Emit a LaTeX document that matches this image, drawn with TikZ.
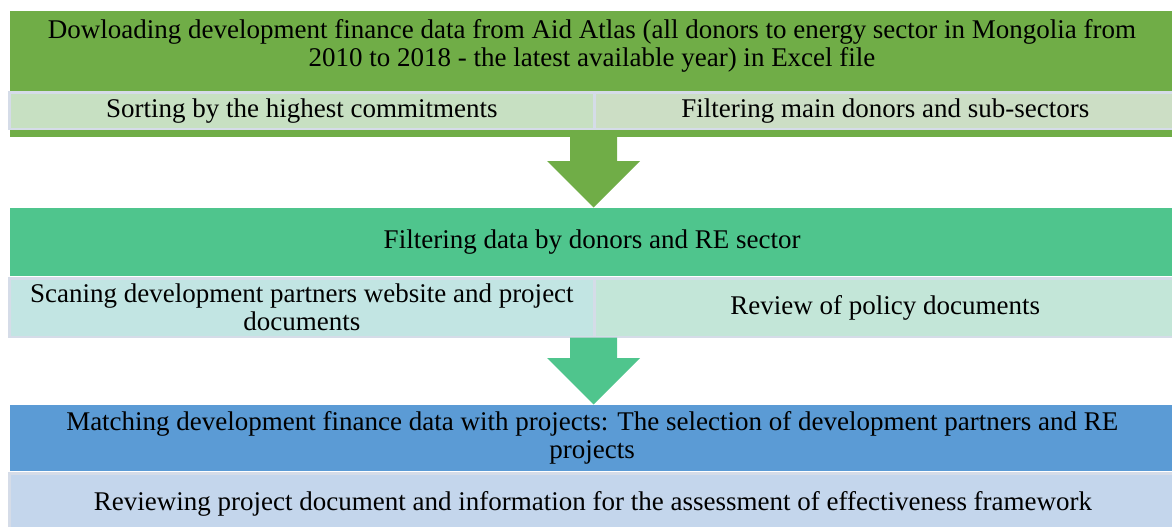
\documentclass[tikz,border=0pt]{standalone}
\usepackage{fontspec}
\setmainfont{Liberation Serif}
\usepackage{xcolor}
\usetikzlibrary{shapes,arrows}
\definecolor{grnA}{HTML}{70AD47}
\definecolor{subAl}{HTML}{C7E0C2}
\definecolor{subAr}{HTML}{CCDEC5}
\definecolor{grnB}{HTML}{4FC58D}
\definecolor{subBl}{HTML}{C2E5E3}
\definecolor{subBr}{HTML}{C3E6D8}
\definecolor{bluC}{HTML}{5B9BD5}
\definecolor{subC}{HTML}{C4D6EC}
\definecolor{edge}{HTML}{D5DCE8}
\tikzstyle{band} = [rectangle, inner sep=0pt, anchor=north west, align=center, font=\fontsize{27}{28}\selectfont]
\tikzstyle{sub} = [rectangle, draw=edge, line width=2.5pt, inner sep=0pt, anchor=north west, align=center, font=\fontsize{27}{28}\selectfont]
\newcommand{\bigdown}[3]{\fill [#1] (#2) ++(-23.5,0) -- ++(47,0) -- ++(0,-#3) -- ++(23,0) -- ++(-46.5,-46.5) -- ++(-46.5,46.5) -- ++(23,0) -- cycle;}

\begin{document}
\begin{tikzpicture}[x=1pt,y=1pt]
\useasboundingbox (0,0) rectangle (1172,-527);
\node [band, fill=grnA, minimum width=1164pt, minimum height=126pt] (blkA) at (10,-11) {};
\node [band, anchor=center] (hdrA) at (592,-46) {Dowloading development finance data from Aid Atlas (all donors to energy sector in Mongolia from\\2010 to 2018 - the latest available year) in Excel file};
\node [sub, fill=subAl, minimum width=584.75pt, minimum height=36.5pt] (sortA) at (8.25,-91.25) {Sorting by the highest commitments};
\node [sub, fill=subAr, minimum width=582pt, minimum height=36.5pt] (filtA) at (593,-91.25) {Filtering main donors and sub-sectors};
\coordinate (tA) at (593.5,-137);
\bigdown{grnA}{tA}{24}
\node [band, fill=grnB, minimum width=1164pt, minimum height=68pt] (hdrB) at (10,-208) {Filtering data by donors and RE sector};
\node [sub, fill=subBl, minimum width=584.75pt, minimum height=58.5pt] (scanB) at (8.25,-277.25) {Scaning development partners website and project\\documents};
\node [sub, fill=subBr, minimum width=582pt, minimum height=58.5pt] (polB) at (593,-277.25) {Review of policy documents};
\coordinate (tB) at (593.5,-337.5);
\bigdown{grnB}{tB}{20.5}
\node [band, fill=bluC, minimum width=1164pt, minimum height=66pt] (hdrC) at (10,-405) {Matching development finance data with projects: The selection of development partners and RE\\projects};
\node [sub, fill=subC, minimum width=1167pt, minimum height=60pt] (revC) at (8.25,-472.25) {Reviewing project document and information for the assessment of effectiveness framework};
\end{tikzpicture}
\end{document}
